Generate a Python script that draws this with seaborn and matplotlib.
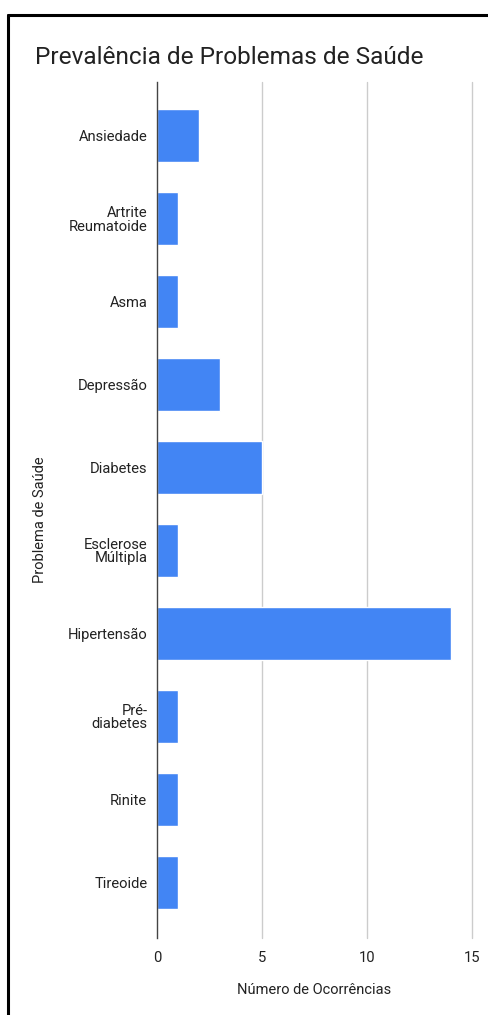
"""
Prevalência de problemas de saúde - horizontal bar chart
"""

import matplotlib
matplotlib.use("Agg")
import matplotlib.pyplot as plt
from matplotlib.lines import Line2D
import seaborn as sns

# Data
problemas = [
    "Ansiedade",
    "Artrite\nReumatoide",
    "Asma",
    "Depressão",
    "Diabetes",
    "Esclerose\nMúltipla",
    "Hipertensão",
    "Pré-\ndiabetes",
    "Rinite",
    "Tireoide",
]
ocorrencias = [2, 1, 1, 3, 5, 1, 14, 1, 1, 1]
x_ticks = [0, 5, 10, 15]

W, H = 489, 1015

sns.set_theme(style="white")
plt.rcParams["font.family"] = ["Roboto", "DejaVu Sans"]

fig = plt.figure(figsize=(W / 100, H / 100), dpi=100)
fig.patch.set_facecolor("white")

# axes placed to match the reference pixel layout
ax = fig.add_axes([157 / W, 1 - 938 / H, (472 - 157) / W, (938 - 82) / H])

sns.barplot(
    x=ocorrencias,
    y=problemas,
    orient="h",
    color="#4285f4",
    saturation=1,
    width=0.64,
    ax=ax,
)

ax.set_xlim(0, 15)
ax.set_ylim(9.675, -0.651)
ax.set_xticks(x_ticks)
ax.set_xticklabels([str(t) for t in x_ticks])

# vertical gridlines
for t in x_ticks[1:]:
    ax.axvline(t, color="#cccccc", lw=1.0, zorder=0, clip_on=False)

for s in ["top", "right", "bottom"]:
    ax.spines[s].set_visible(False)
ax.spines["left"].set_color("#444444")
ax.spines["left"].set_linewidth(1.0)

ax.tick_params(axis="y", length=0, pad=7, labelsize=10.6, labelcolor="#222222")
ax.tick_params(axis="x", length=0, pad=9, labelsize=10.6, labelcolor="#222222")
for lbl in ax.get_yticklabels():
    lbl.set_multialignment("right")
    lbl.set_linespacing(0.95)

ax.set_xlabel("")
ax.set_ylabel("")

fig.text(157 / W + (472 - 157) / W / 2, 1 - 990 / H, "Número de Ocorrências",
         ha="center", va="center", fontsize=10.5, color="#222222")
fig.text(40 / W, 1 - 520 / H, "Problema de Saúde", rotation=90,
         ha="center", va="center", fontsize=10.5, color="#222222")
fig.text(35 / W, 1 - 57 / H, "Prevalência de Problemas de Saúde",
         ha="left", va="center", fontsize=17.6, color="#222222")

# black frame: only left and top edges are visible in the reference
fig.add_artist(Line2D([8 / W, 8 / W], [0, 1 - 15 / H], color="black", lw=2.2,
                      transform=fig.transFigure))
fig.add_artist(Line2D([8 / W, 1], [1 - 15 / H, 1 - 15 / H], color="black",
                      lw=2.2, transform=fig.transFigure))

fig.savefig("out.png", dpi=100, facecolor="white")
plt.close(fig)
